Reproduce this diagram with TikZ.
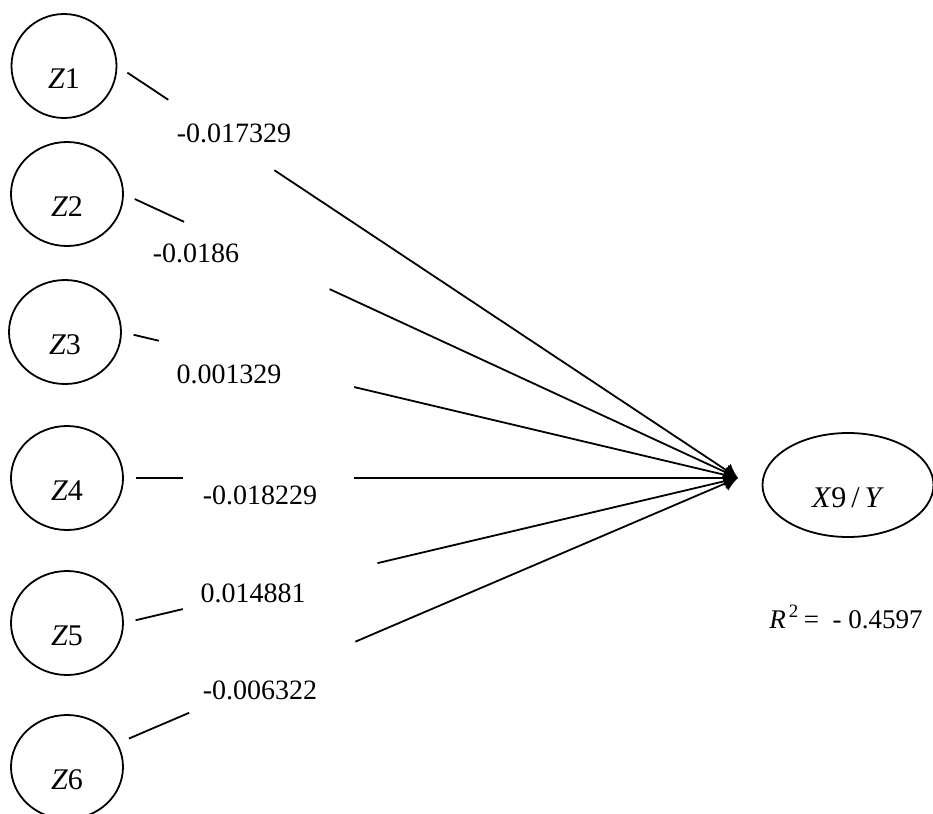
\documentclass[tikz,border=0pt]{standalone}
\usepackage{fontspec}
\setmainfont{Liberation Serif}
\usetikzlibrary{arrows.meta}
\usetikzlibrary{shapes.geometric}

\begin{document}
\begin{tikzpicture}[x=0.5pt,y=-0.5pt,line width=0.9pt,
    zvar/.style={ellipse,draw,minimum width=56pt,minimum height=52pt,inner sep=0pt,
        text height=22pt,text depth=0pt,font=\fontsize{15}{18}\selectfont},
    coef/.style={inner sep=0pt,font=\fontsize{14}{16}\selectfont}]
    % cadre
    \useasboundingbox (0,0) rectangle (933,814);
    \clip (0,0) rectangle (933,814);
    % variables Z
    \node[zvar,minimum width=52.5pt] (z1) at (64,66) {\textit{Z}1};
    \node[zvar] (z2) at (67,194) {\textit{Z}2};
    \node[zvar] (z3) at (65,332) {\textit{Z}3};
    \node[zvar] (z4) at (67,478) {\textit{Z}4};
    \node[zvar] (z5) at (67,623) {\textit{Z}5};
    \node[zvar] (z6) at (67,767) {\textit{Z}6};
    % variable Y
    \node[zvar,minimum width=85.5pt] (x9) at (848,485) {\textit{X}9\,/\,\textit{Y}};
    \coordinate (hub) at (738,478);
    %flèches
    \foreach \i/\anc/\a/\b in {1/east/0.082/0.253, 2/east/0.098/0.335, 3/east/0.060/0.377,
                               4/east/0.096/0.374, 5/east/0.096/0.413, 6/25/0.115/0.383}{
        \path (z\i.\anc) -- (hub) coordinate[pos=\a] (p\i) coordinate[pos=\b] (q\i);
        \draw[shorten <=6pt] (z\i.\anc) -- (p\i);
        \draw[-{Latex[length=7pt,width=8pt]}] (q\i) -- (hub);
    }
    % coefficients
    \node[coef] (l1) at (234,133) {-0.017329};
    \node[coef] (l2) at (196,253) {-0.0186};
    \node[coef] (l3) at (229,374) {0.001329};
    \node[coef] (l4) at (260,495) {-0.018229};
    \node[coef] (l5) at (253,593) {0.014881};
    \node[coef] (l6) at (260,690) {-0.006322};
    \node[font=\fontsize{13.5}{16}\selectfont] (r2) at (846,617)
        {\textit{R}\textsuperscript{\,2}\,= \ - 0.4597};
\end{tikzpicture}
\end{document}
